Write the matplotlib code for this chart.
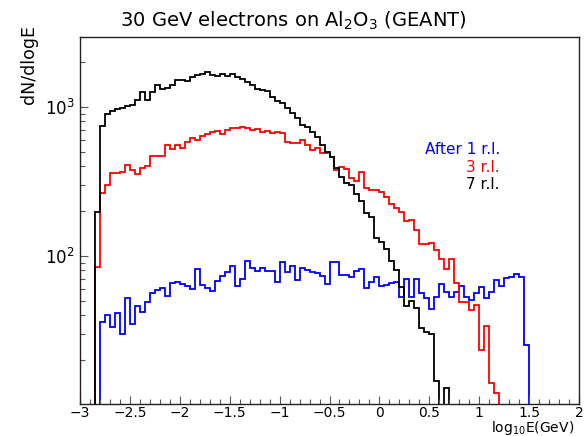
import numpy as np
import matplotlib
matplotlib.use("Agg")
import matplotlib.pyplot as plt
from matplotlib.ticker import LogLocator, FixedLocator, MultipleLocator, NullFormatter

# bin edges: 100 bins from -3 to 2 in log10(E/GeV)
x_min, x_max, n_bins = -3.0, 2.0, 100

after_1rl = [0, 0, 0, 0, 36, 40.3, 33.3, 41.3, 30.0, 52.6,
             35.0, 46.2, 42.4, 49.4, 56.3, 59.2, 61.3, 54, 65.6, 67.3,
             64.9, 63, 59.8, 81.4, 64, 60.7, 58.3, 68.3, 73.5, 78.5,
             85.7, 63, 69.8, 93, 82.7, 79.7, 82.7, 79.7, 79.7, 67.3,
             91.6, 78.5, 85.7, 69, 82.7, 80.6, 78.5, 76.5, 73.5, 65,
             91.6, 91.6, 74.6, 74.6, 72.7, 79.7, 81.4, 60.7, 67.3, 72.7,
             63, 64, 65.6, 67.3, 53.5, 69.8, 53.5, 69.8, 56.3, 52.2,
             43.9, 53.5, 64.9, 57.7, 53.5, 57.7, 63, 53.5, 50.8, 56.3,
             62.3, 52.2, 57.7, 69, 63, 70.8, 72.7, 75.7, 72.7, 25.3,
             0, 0, 0, 0, 0, 0, 0, 0, 0, 0]

after_3rl = [0, 0, 0, 84, 263, 299, 358, 362, 367, 407,
             377, 354, 387, 400, 467, 467, 467, 554, 518, 554,
             528, 583, 614, 599, 637, 657, 681, 692, 657, 700,
             718, 718, 735, 718, 700, 705, 681, 690, 668, 681,
             664, 583, 574, 567, 599, 554, 510, 528, 487, 487,
             463, 377, 396, 380, 331, 316, 366, 284, 277, 277,
             270, 250, 222, 211, 197, 172, 175, 149, 120, 120,
             122, 110, 95, 82, 95, 66, 49, 49, 43.5, 47,
             23.5, 34, 14.1, 12.1, 0, 0, 0, 0, 0, 0,
             0, 0, 0, 0, 0, 0, 0, 0, 0, 0]

after_7rl = [0, 0, 0, 197, 746, 893, 935, 961, 985, 1010,
             1027, 1110, 1260, 1110, 1260, 1397, 1309, 1330, 1397, 1510,
             1510, 1495, 1590, 1635, 1650, 1705, 1635, 1610, 1650, 1610,
             1650, 1590, 1530, 1470, 1397, 1309, 1290, 1280, 1166, 1097,
             1064, 975, 903, 836, 754, 735, 681, 630, 554, 500,
             463, 387, 340, 310, 299, 260, 235, 195, 183, 132,
             125, 112, 92, 80, 62, 46, 50, 45, 33, 31,
             30, 14.5, 0, 13, 0, 0, 0, 0, 0, 0,
             0, 0, 0, 0, 0, 0, 0, 0, 0, 0,
             0, 0, 0, 0, 0, 0, 0, 0, 0, 0]

series = [("After 1 r.l.", after_1rl, "#0000ff"),
          ("3 r.l.", after_3rl, "#ff0000"),
          ("7 r.l.", after_7rl, "#000000")]

W, H = 586, 436
fig = plt.figure(figsize=(W / 100, H / 100), dpi=100)
fig.patch.set_facecolor("white")
ax = fig.add_axes([80 / W, 32 / H, 499 / W, 367 / H])

edges = np.linspace(x_min, x_max, n_bins + 1)
for name, vals, col in series:
    v = np.asarray(vals, dtype=float)
    v = np.where(v > 0, v, 1e-3)
    ax.stairs(v, edges, color=col, lw=1.3, baseline=None)

ax.set_yscale("log")
ax.set_xlim(x_min, x_max)
ax.set_ylim(10.2, 2930)

ax.xaxis.set_major_locator(MultipleLocator(0.5))
ax.xaxis.set_minor_locator(MultipleLocator(0.1))
ax.xaxis.set_major_formatter(matplotlib.ticker.FuncFormatter(
    lambda v, p: ("%g" % v).replace("-", "\u2212")))
ax.yaxis.set_major_locator(FixedLocator([100, 1000]))
ax.yaxis.set_minor_locator(LogLocator(base=10, subs=np.arange(2, 10)))
ax.yaxis.set_minor_formatter(NullFormatter())

ax.tick_params(axis="both", which="major", direction="in", length=6, width=0.8,
               colors="#555555", labelcolor="black")
ax.tick_params(axis="both", which="minor", direction="in", length=3.5, width=0.8,
               colors="#555555")
ax.tick_params(axis="x", pad=1.5, labelsize=10)
ax.tick_params(axis="y", pad=4, labelsize=12)
for s in ax.spines.values():
    s.set_linewidth(1.0)
    s.set_color("#222222")

fig.text(293 / W, 1 - 21 / H, "30 GeV electrons on Al$_2$O$_3$ (GEANT)",
         ha="center", va="center", fontsize=14)
fig.text(29 / W, 1 - 25 / H, "dN/dlogE", rotation=90, ha="center", va="top",
         fontsize=12.5)
fig.text(574 / W, 1 - 428.3 / H, "log$_{10}$E(GeV)", ha="right", va="center",
         fontsize=10)

legend_y = [149, 167, 184]
for (name, vals, col), yy in zip(series, legend_y):
    fig.text(500 / W, 1 - yy / H, name, color=col, ha="right", va="center",
             fontsize=11)

fig.savefig("out.png", dpi=100, facecolor="white")
